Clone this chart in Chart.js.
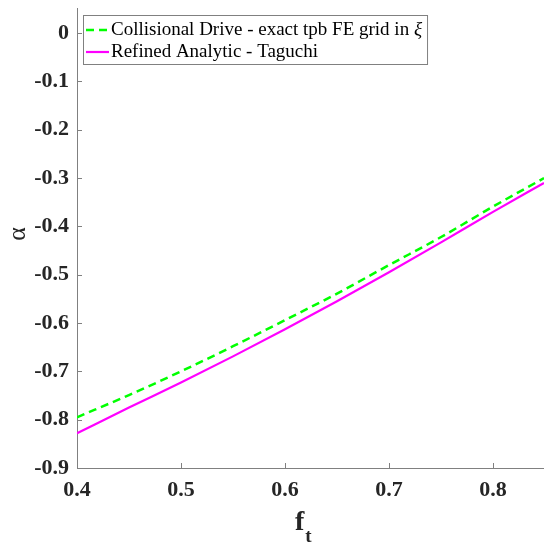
<!DOCTYPE html>
<html>
<head>
<meta charset="utf-8">
<script src="https://cdn.jsdelivr.net/npm/chart.js@4.4.0/dist/chart.umd.min.js"></script>
<style>
  html, body { margin: 0; padding: 0; background: #fff; }
  canvas { display: block; }
</style>
</head>
<body>
<canvas id="alphaChart" width="544" height="542"></canvas>
<script>
// f_t sample points and alpha values
const ftValues = [0.40, 0.45, 0.50, 0.55, 0.60, 0.65, 0.70, 0.75, 0.80, 0.849];
const collisionalDrive = [-0.795, -0.749, -0.700, -0.648, -0.594, -0.539, -0.480, -0.422, -0.359, -0.300];
const refinedTaguchi = [-0.828, -0.775, -0.723, -0.669, -0.613, -0.555, -0.495, -0.433, -0.370, -0.310];
const seriesLabels = ['Collisional Drive - exact tpb FE grid in ', 'Refined Analytic - Taguchi'];

const SERIF = "'Liberation Serif', 'Times New Roman', serif";
const AXIS_GREY = '#808080';
const TEXT_DARK = '#262626';

function toPoints(ys) {
    return ftValues.map((x, i) => ({ x: x, y: ys[i] }));
}

// MATLAB style inward tick marks
const inwardTicks = {
    id: 'inwardTicks',
    afterDatasetsDraw(chart) {
        const ctx = chart.ctx;
        const area = chart.chartArea;
        const xs = chart.scales.x, ys = chart.scales.y;
        ctx.save();
        ctx.strokeStyle = AXIS_GREY;
        ctx.lineWidth = 1;
        ctx.beginPath();
        xs.ticks.forEach(t => {
            const px = Math.round(xs.getPixelForValue(t.value)) + 0.5;
            ctx.moveTo(px, area.bottom);
            ctx.lineTo(px, area.bottom - 5);
        });
        ys.ticks.forEach(t => {
            const py = Math.round(ys.getPixelForValue(t.value)) + 0.5;
            ctx.moveTo(area.left, py);
            ctx.lineTo(area.left + 5, py);
        });
        ctx.stroke();
        ctx.restore();
    }
};

// axis titles: f with subscript t, and alpha
const axisTitles = {
    id: 'axisTitles',
    afterDraw(chart) {
        const ctx = chart.ctx;
        ctx.save();
        ctx.fillStyle = TEXT_DARK;
        ctx.textBaseline = 'alphabetic';
        ctx.textAlign = 'left';
        ctx.font = 'bold 28px ' + SERIF;
        ctx.fillText('f', 295, 530);
        const fw = ctx.measureText('f').width;
        ctx.font = 'bold 19px ' + SERIF;
        ctx.fillText('t', 295 + fw + 1, 542);

        ctx.translate(18, 234);
        ctx.rotate(-Math.PI / 2);
        ctx.textAlign = 'center';
        ctx.textBaseline = 'middle';
        ctx.font = '26px ' + SERIF;
        ctx.fillText('α', 0, 0);
        ctx.restore();
    }
};

// boxed legend in the top left corner
const boxLegend = {
    id: 'boxLegend',
    afterDraw(chart) {
        const ctx = chart.ctx;
        const left = 83, top = 15;
        const rowY = [30, 52];
        const font = '19px ' + SERIF;
        ctx.save();
        ctx.font = font;
        const w0 = ctx.measureText(seriesLabels[0]).width;
        const w1 = ctx.measureText(seriesLabels[1]).width;
        ctx.font = 'italic ' + font;
        const xiW = ctx.measureText('ξ').width;
        const textX = 111;
        const width = textX - left + Math.max(w0 + xiW, w1) + 5;
        ctx.fillStyle = '#fff';
        ctx.fillRect(left, top, width, 49);
        ctx.strokeStyle = AXIS_GREY;
        ctx.lineWidth = 1;
        ctx.strokeRect(left + 0.5, top + 0.5, width, 49);

        chart.data.datasets.forEach((ds, i) => {
            ctx.strokeStyle = ds.borderColor;
            ctx.lineWidth = ds.borderWidth;
            ctx.setLineDash(ds.borderDash || []);
            ctx.beginPath();
            ctx.moveTo(86, rowY[i]);
            ctx.lineTo(109, rowY[i]);
            ctx.stroke();
            ctx.setLineDash([]);
            ctx.fillStyle = '#000';
            ctx.textBaseline = 'middle';
            ctx.font = font;
            ctx.fillText(seriesLabels[i], textX, rowY[i]);
            if (i === 0) {
                ctx.font = 'italic ' + font;
                ctx.fillText('ξ', textX + w0, rowY[i]);
            }
        });
        ctx.restore();
    }
};

const config = {
    type: 'line',
    data: {
        datasets: [{
            label: seriesLabels[0] + 'ξ',
            data: toPoints(collisionalDrive),
            borderColor: '#00ff00',
            borderWidth: 2.5,
            borderDash: [8, 5],
            pointRadius: 0,
            cubicInterpolationMode: 'monotone',
            fill: false
        }, {
            label: seriesLabels[1],
            data: toPoints(refinedTaguchi),
            borderColor: '#ff00ff',
            borderWidth: 2.2,
            pointRadius: 0,
            cubicInterpolationMode: 'monotone',
            fill: false
        }]
    },
    options: {
        responsive: false,
        animation: false,
        layout: { padding: { top: 8, left: 0, right: 0, bottom: 0 } },
        plugins: {
            legend: { display: false },
            tooltip: { enabled: false }
        },
        scales: {
            x: {
                type: 'linear',
                min: 0.4,
                max: 0.849,
                afterFit(scale) {
                    scale.height = 74;
                    scale.paddingLeft = 0;
                    scale.paddingRight = 0;
                },
                grid: { drawOnChartArea: false, drawTicks: false },
                border: { color: AXIS_GREY, width: 1 },
                ticks: {
                    stepSize: 0.1,
                    includeBounds: false,
                    padding: 9,
                    color: TEXT_DARK,
                    font: { family: SERIF, size: 22, weight: 'bold' },
                    maxRotation: 0,
                    callback: v => v.toFixed(1)
                }
            },
            y: {
                min: -0.9,
                max: 0.052,
                afterFit(scale) {
                    scale.width = 77;
                    scale.paddingTop = 0;
                    scale.paddingBottom = 0;
                },
                grid: { drawOnChartArea: false, drawTicks: false },
                border: { color: AXIS_GREY, width: 1 },
                ticks: {
                    stepSize: 0.1,
                    includeBounds: false,
                    padding: 8,
                    color: TEXT_DARK,
                    font: { family: SERIF, size: 22, weight: 'bold' },
                    callback: v => Math.abs(v) < 1e-9 ? '0' : v.toFixed(1)
                }
            }
        }
    },
    plugins: [inwardTicks, axisTitles, boxLegend]
};

new Chart(document.getElementById('alphaChart'), config);
</script>
</body>
</html>
